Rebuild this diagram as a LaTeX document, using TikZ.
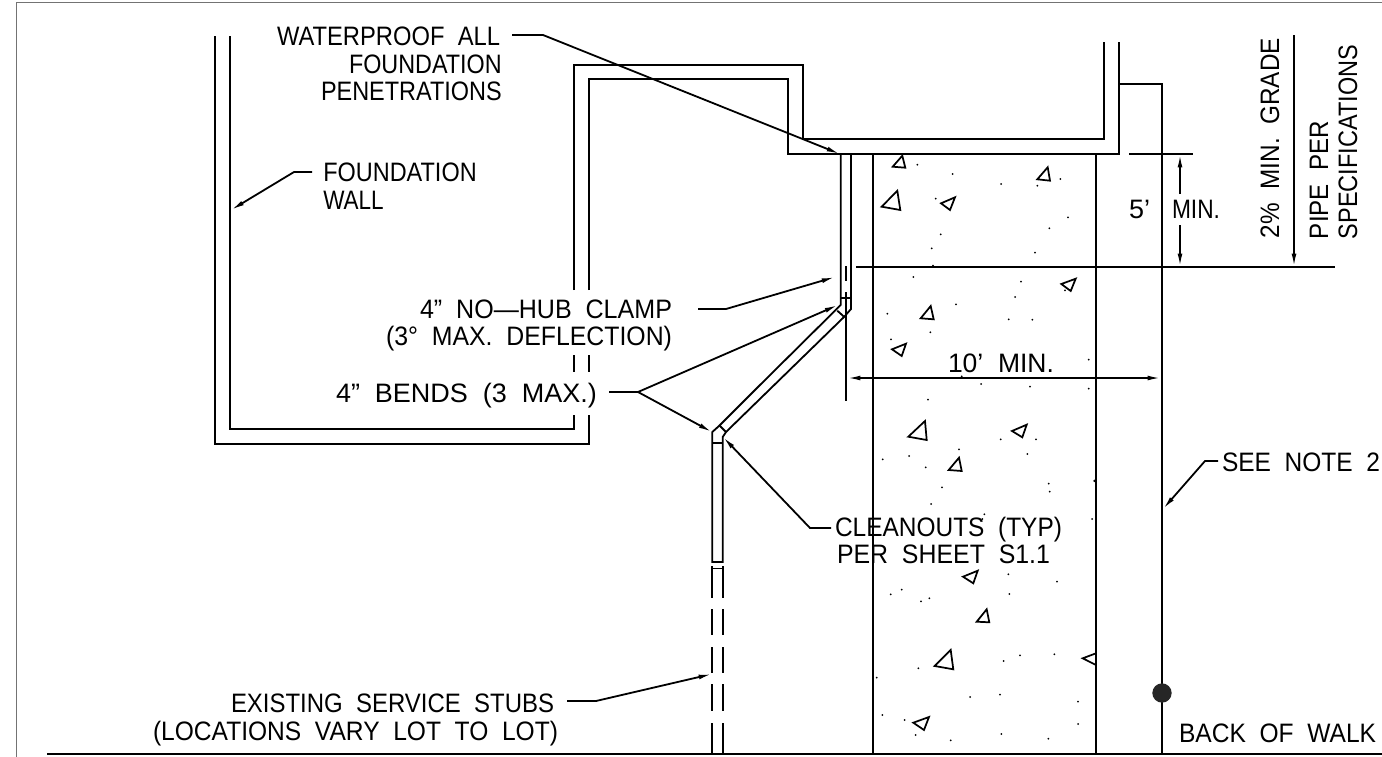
\documentclass[tikz,border=0pt]{standalone}
\usepackage{fontspec}
\usepackage{graphicx}
\setmainfont{Liberation Sans}
\usetikzlibrary{arrows.meta}
\newdimen\pxu \pxu=.75pt
\newcommand{\fitw}[2]{\resizebox{#1\pxu}{\height}{#2}}
\tikzset{
  ln/.style={line width=1.35pt,line cap=butt,line join=miter},
  tip/.style={-{Latex[length=10pt,width=3.6pt]}},
  lbl/.style={inner sep=0pt,outer sep=0pt,anchor=base west,font=\fontsize{20}{22}\selectfont},
  rock/.style={line width=1.3pt,line join=miter},
  speck/.style={fill=black,draw=none}
}
\begin{document}
\begin{tikzpicture}[x=.75pt,y=-.75pt]
\useasboundingbox (0,0) rectangle (1382,757);
\fill[white] (0,0) rectangle (1382,757);
% sheet frame
\draw[line width=1.1pt,black!55] (1382,2.5) -- (16.7,2.5) -- (16.7,757);
% ground
\draw[ln] (47,754) -- (1382,754);
% foundation wall
\draw[ln] (215,36) -- (215,444) -- (589,444) -- (589,415);
\draw[ln] (230,36) -- (230,429) -- (574,429) -- (574,415);
\draw[ln] (574,355) -- (574,372) (589,355) -- (589,372);
\draw[ln] (574,290) -- (574,65) -- (803,65) -- (803,139) -- (1104,139) -- (1104,42);
\draw[ln] (589,290) -- (589,79) -- (788,79) -- (788,154) -- (1119,154) -- (1119,42);
\draw[ln] (1119,84) -- (1162,84) -- (1162,754);
% walk
\draw[ln] (873,154) -- (873,754);
\draw[ln] (1096,154) -- (1096,754);
% pipe
\draw[ln] (840.7,154) -- (840.7,305) -- (760,385) -- (719.5,425.5) -- (712.3,432) -- (712.3,562) -- (722.7,562) -- (722.7,437) -- (726,432) -- (844,317) -- (851,309) -- (851,154);
\draw[ln] (840.7,297.7) -- (851,297.7);
\draw[ln] (837.3,310.7) -- (844,316.7);
\draw[ln] (719.5,425.5) -- (726,432);
\draw[ln] (712.3,443) -- (722.7,443);
\draw[ln] (846,266) -- (846,281);
\coordinate (extA) at (846,292);
\coordinate (extB) at (846,401);
\draw[ln] (extA) -- (extB);
% lower pipe, broken
\draw[ln] (712.3,568.5) -- (722.7,568.5);
\foreach \x in {712.3,722.7}{
  \draw[ln] (\x,566) -- (\x,597.5) (\x,609) -- (\x,635) (\x,647) -- (\x,673) (\x,684) -- (\x,711) (\x,723) -- (\x,754);
}
% levels and dimensions
\coordinate (lvl) at (1180,267);
\coordinate (top5) at (1180,154);
\coordinate (grA) at (1294,35);
\coordinate (grB) at (1294,267);
\coordinate (dimL) at (847,378);
\coordinate (dimR) at (1161,378);
\draw[ln] (856,267) -- (1335,267);
\draw[ln] (1129,154) -- (1193,154);
\draw[ln,tip] (1180,194) -- (top5);
\draw[ln,tip] (1180,225) -- (lvl);
\draw[ln,tip] (grA) -- (grB);
\draw[ln,{Latex[length=10pt,width=3.6pt]}-{Latex[length=10pt,width=3.6pt]}] (dimL) -- (dimR);
\node[circle,fill=black!85,inner sep=0pt,minimum size=14.5pt] (bow) at (1162,693) {};
% labels
\node[lbl] (t1a) at (277,45) {\fitw{223}{WATERPROOF~~ALL}};
\node[lbl] (t1b) at (349,73) {\fitw{152.7}{FOUNDATION}};
\node[lbl] (t1c) at (321,100.7) {\fitw{180.7}{PENETRATIONS}};
\node[lbl] (t2a) at (323.3,181.5) {\fitw{153.4}{FOUNDATION}};
\node[lbl] (t2b) at (323.3,209) {\fitw{60.4}{WALL}};
\node[lbl] (t3a) at (420,318) {\fitw{252}{4”~~NO—HUB~~CLAMP}};
\node[lbl] (t3b) at (386,345) {\fitw{286}{(3°~~MAX.~~DEFLECTION)}};
\node[lbl] (t4) at (336,402) {\fitw{261}{4”~~BENDS~~(3~~MAX.)}};
\node[lbl] (t5a) at (835,536.7) {\fitw{227}{CLEANOUTS~~(TYP)}};
\node[lbl] (t5b) at (837,563.5) {\fitw{213}{PER~~SHEET~~S1.1}};
\node[lbl] (t6) at (1222,471) {\fitw{158}{SEE~~NOTE~~2}};
\node[lbl] (t7a) at (231,712) {\fitw{323}{EXISTING~~SERVICE~~STUBS}};
\node[lbl] (t7b) at (153,740.5) {\fitw{405}{(LOCATIONS~~VARY~~LOT~~TO~~LOT)}};
\node[lbl] (t8) at (1179,742) {\fitw{197}{BACK~~OF~~WALK}};
\node[lbl] (t9) at (948,372) {\fitw{106}{10’~~MIN.}};
\node[lbl] (t10) at (1129,218) {\fitw{21}{5’}};
\node[lbl] (t11) at (1172,218) {\fitw{48}{MIN.}};
\node[lbl,rotate=90] (t12) at (1279,238) {\fitw{200}{2\%~~MIN.~~GRADE}};
\node[lbl,rotate=90] (t13) at (1328,239) {\fitw{118}{PIPE~~PER}};
\node[lbl,rotate=90] (t14) at (1357,239) {\fitw{194}{SPECIFICATIONS}};
% leaders
\coordinate (l1s) at (512,35);
\coordinate (l1k) at (543,35);
\coordinate (l1e) at (840,154);
\draw[ln,tip] (l1s) -- (l1k) -- (l1e);
\coordinate (l2s) at (312,172);
\coordinate (l2k) at (294,172);
\coordinate (l2e) at (231,210);
\draw[ln,tip] (l2s) -- (l2k) -- (l2e);
\coordinate (l3s) at (698,309);
\coordinate (l3k) at (726,309);
\coordinate (l3e) at (835,277);
\draw[ln,tip] (l3s) -- (l3k) -- (l3e);
\coordinate (l4s) at (609,392);
\coordinate (l4k) at (638,392);
\coordinate (l4a) at (838,305);
\coordinate (l4b) at (712,432);
\draw[ln] (l4s) -- (l4k);
\draw[ln,tip] (l4k) -- (l4a);
\draw[ln,tip] (l4k) -- (l4b);
\coordinate (l5s) at (831,528);
\coordinate (l5k) at (810,528);
\coordinate (l5e) at (723,437);
\draw[ln,tip] (l5s) -- (l5k) -- (l5e);
\coordinate (l6s) at (1218,461);
\coordinate (l6k) at (1205,461);
\coordinate (l6e) at (1163,509);
\draw[ln,tip] (l6s) -- (l6k) -- (l6e);
\coordinate (l7s) at (567,701);
\coordinate (l7k) at (596,701);
\coordinate (l7e) at (712,674);
\draw[ln,tip] (l7s) -- (l7k) -- (l7e);
% aggregate: triangles
\foreach \a/\b/\c/\d/\e/\f in {
 902.3/155.7/892.7/166.7/905.3/167.7, 897.3/190.7/881.7/206.7/900.3/210,
 955/197.3/941/203.3/950/210, 1047.7/167.3/1037.3/179.3/1050/180.7,
 1075.7/278.7/1061.3/284/1070.7/291, 930.7/306/920.7/318.3/933.7/319.3,
 906/343.7/892/349.3/901.7/356, 925/421/908.3/436.7/926.7/440,
 1026.7/424.7/1012/431/1022.3/437.3, 959/457.7/948.7/470/961.7/471,
 977.7/570.7/963/576.7/973.3/583.3, 986.7/609.3/976.7/621.7/989.3/622.3,
 950.7/650/934.7/666/953.3/669.3, 929/717/913.3/722.7/924/730}{
  \draw[rock] (\a,\b) -- (\c,\d) -- (\e,\f) -- cycle;
}
\draw[rock] (1096,653.3) -- (1082.7,658.3) -- (1096,665);
\fill (1096,478.5) -- (1093,481) -- (1096,483) -- cycle;
% aggregate: specks
\begin{scope}[shift={(760,120)},x=.25pt,y=-.25pt]
\foreach \p/\q in {472/134,578/162,723/192,832/197,901/177,527/236,924/292,868/325,542/343,515/385,825/398,519/437,460/471,783/485,765/531,915/511,588/553,382/581,746/598,817/599,511/637,393/658,986/719,605/769,663/792,810/800,986/806,504/839}{
  \fill[speck] (\p,\q) circle[radius=3];
}
\end{scope}
\begin{scope}[shift={(860,420)},x=.25pt,y=-.25pt]
\foreach \p/\q in {422/58,528/58,502/102,297/88,68/118,147/108,197/142,246/202,566/191,569/215,213/252,373/283,367/297,696/297,445/463,591/485,92/523,125/509,183/544,208/535,448/522,431/723,480/706,583/703,175/745,50/773,330/831,420/824,654/845,67/885,134/900,654/912,167/945,424/942,272/961,565/956}{
  \fill[speck] (\p,\q) circle[radius=3];
}
\end{scope}
\end{tikzpicture}
\end{document}
